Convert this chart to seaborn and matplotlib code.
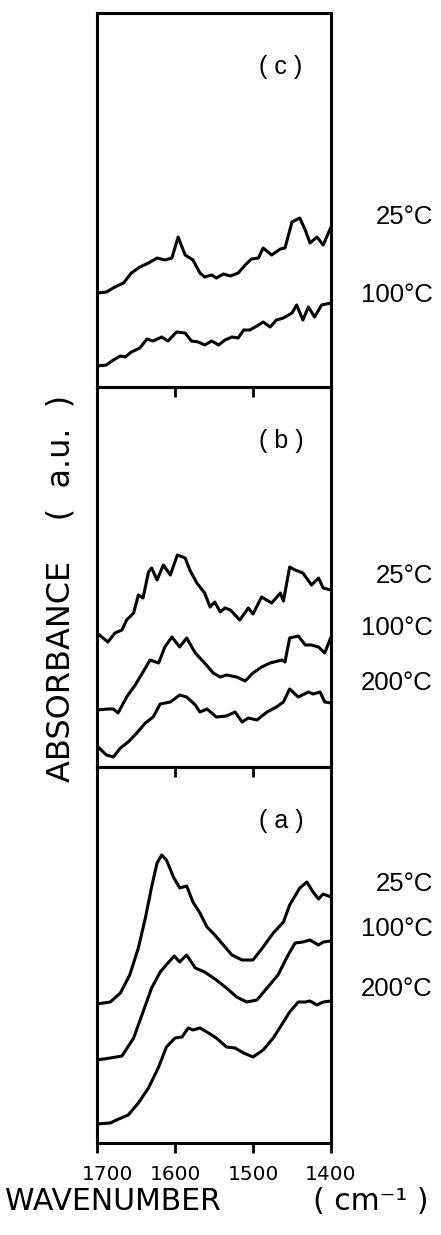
import numpy as np
import pandas as pd
import matplotlib
matplotlib.use("Agg")
import matplotlib.pyplot as plt
import matplotlib.transforms as mtransforms
import seaborn as sns

# ---------------- data (wavenumber cm-1, absorbance a.u.) ----------------
wn_c25 = [1700,1688,1677,1666,1656,1645,1634,1623,1613,1604,1596,1587,1577,1568,1562,1553,1547,1538,1529,1519,1510,1502,1493,1487,1476,1465,1459,1450,1440,1433,1427,1418,1410,1400]
ab_c25 = [0.94,0.95,1.00,1.04,1.14,1.20,1.24,1.29,1.27,1.29,1.50,1.32,1.27,1.14,1.10,1.12,1.09,1.13,1.11,1.14,1.22,1.28,1.29,1.39,1.32,1.38,1.39,1.65,1.69,1.57,1.44,1.50,1.42,1.60]

wn_c100 = [1700,1688,1679,1670,1664,1656,1645,1636,1628,1617,1609,1598,1587,1579,1570,1562,1553,1544,1536,1527,1519,1512,1504,1495,1487,1478,1470,1461,1450,1444,1436,1429,1421,1412,1400]
ab_c100 = [0.21,0.22,0.27,0.31,0.30,0.35,0.39,0.48,0.46,0.50,0.46,0.55,0.54,0.46,0.45,0.42,0.46,0.42,0.47,0.50,0.49,0.57,0.57,0.61,0.65,0.60,0.67,0.69,0.74,0.82,0.67,0.80,0.70,0.82,0.84]

wn_b25 = [1700,1686,1677,1668,1662,1653,1647,1641,1634,1630,1623,1615,1606,1597,1587,1581,1572,1562,1555,1549,1542,1536,1529,1517,1506,1500,1489,1476,1465,1461,1453,1446,1436,1425,1416,1410,1400]
ab_b25 = [1.34,1.25,1.34,1.37,1.47,1.54,1.72,1.69,1.95,1.99,1.87,2.02,1.92,2.12,2.09,1.97,1.84,1.74,1.60,1.65,1.55,1.59,1.57,1.47,1.59,1.53,1.70,1.64,1.74,1.66,2.00,1.97,1.94,1.82,1.89,1.79,1.77]

wn_b100 = [1700,1686,1679,1673,1662,1651,1641,1632,1621,1613,1604,1594,1585,1574,1562,1551,1542,1534,1521,1510,1500,1489,1478,1463,1459,1453,1442,1433,1425,1416,1408,1400]
ab_b100 = [0.57,0.58,0.58,0.54,0.70,0.82,0.95,1.07,1.04,1.20,1.30,1.20,1.29,1.14,1.04,0.94,0.90,0.92,0.90,0.86,0.94,1.00,1.04,1.07,1.05,1.29,1.31,1.22,1.22,1.20,1.14,1.30]

wn_b200 = [1700,1688,1679,1670,1660,1649,1638,1628,1619,1606,1594,1585,1574,1568,1559,1547,1534,1523,1514,1506,1495,1482,1470,1461,1453,1442,1429,1423,1414,1408,1400]
ab_b200 = [0.21,0.12,0.10,0.19,0.25,0.34,0.44,0.50,0.63,0.65,0.72,0.70,0.62,0.55,0.58,0.50,0.51,0.55,0.45,0.49,0.47,0.55,0.60,0.65,0.78,0.70,0.75,0.73,0.75,0.65,0.64]

wn_a25 = [1700,1683,1670,1658,1647,1638,1630,1623,1617,1611,1602,1594,1585,1577,1568,1559,1549,1538,1527,1514,1500,1487,1474,1461,1453,1440,1431,1423,1416,1410,1400]
ab_a25 = [1.39,1.41,1.50,1.68,1.95,2.25,2.56,2.80,2.88,2.83,2.66,2.55,2.57,2.41,2.30,2.16,2.08,1.98,1.88,1.83,1.83,1.96,2.10,2.21,2.38,2.55,2.61,2.51,2.44,2.49,2.46]

wn_a100 = [1700,1683,1668,1653,1641,1630,1619,1609,1601,1594,1585,1574,1562,1547,1534,1521,1508,1495,1482,1468,1455,1446,1436,1427,1416,1410,1400]
ab_a100 = [0.83,0.85,0.87,1.05,1.31,1.55,1.71,1.80,1.87,1.81,1.88,1.75,1.71,1.63,1.55,1.46,1.41,1.43,1.55,1.68,1.88,2.00,2.01,2.03,1.98,2.01,2.02]

wn_a200 = [1700,1683,1675,1660,1647,1634,1621,1611,1600,1591,1583,1577,1568,1557,1547,1534,1523,1512,1500,1487,1474,1461,1453,1442,1433,1427,1418,1410,1400]
ab_a200 = [0.19,0.20,0.23,0.28,0.40,0.55,0.76,0.96,1.05,1.06,1.15,1.13,1.15,1.10,1.05,0.96,0.95,0.90,0.86,0.93,1.05,1.21,1.31,1.41,1.41,1.42,1.38,1.41,1.42]

x_ticks = [1700, 1600, 1500, 1400]
x_tick_labels = ["1700", "1600", "1500", "1400"]
panel_names = ["( c )", "( b )", "( a )"]
temps_c = ["25°C", "100°C"]
temps_b = ["25°C", "100°C", "200°C"]
temps_a = ["25°C", "100°C", "200°C"]

# ---------------- figure ----------------
sns.set_style("white")
plt.rcParams["font.family"] = ["DejaVu Sans"]
plt.rcParams["text.color"] = "black"
plt.rcParams["xtick.color"] = "black"
plt.rcParams["axes.edgecolor"] = "black"

W, H = 441, 1235
fig = plt.figure(figsize=(W / 100, H / 100), dpi=100)

left, right = 97, 331
panels_px = [(13, 387), (387, 767), (767, 1143)]  # top, bottom in px
ylims = [(0, 3.74), (0, 3.80), (0, 3.76)]

series = [
    [(wn_c25, ab_c25), (wn_c100, ab_c100)],
    [(wn_b25, ab_b25), (wn_b100, ab_b100), (wn_b200, ab_b200)],
    [(wn_a25, ab_a25), (wn_a100, ab_a100), (wn_a200, ab_a200)],
]
temp_labels = [temps_c, temps_b, temps_a]
temp_y_px = [[217, 295], [576, 628, 683], [884, 929, 989]]

axes = []
for i, ((top, bot), ylim) in enumerate(zip(panels_px, ylims)):
    ax = fig.add_axes([left / W, 1 - bot / H, (right - left) / W, (bot - top) / H])
    axes.append(ax)
    for wn, ab in series[i]:
        df = pd.DataFrame({"wn": wn, "ab": ab})
        sns.lineplot(data=df, x="wn", y="ab", ax=ax, color="black", lw=2.2,
                     estimator=None, sort=False)
    ax.set_xlim(1700, 1400)
    ax.set_ylim(*ylim)
    ax.set_yticks([])
    ax.set_xticks(x_ticks)
    ax.set_xlabel("")
    ax.set_ylabel("")
    for sp in ax.spines.values():
        sp.set_visible(True)
        sp.set_color("black")
        sp.set_linewidth(2.2)
    ax.tick_params(axis="x", direction="out", length=7, width=2.0, bottom=True,
                   top=False, colors="black", pad=9)
    if i < 2:
        ax.set_xticklabels([])
    else:
        ax.set_xticklabels(x_tick_labels, fontsize=14.5)
        lab0 = ax.get_xticklabels()[0]
        lab0.set_transform(lab0.get_transform() +
                           mtransforms.ScaledTranslation(10 / 100, 0, fig.dpi_scale_trans))
    ax.set_zorder(3 - i)
    ax.patch.set_alpha(0)
    ax.text(0.786, 1 - 54 / (bot - top), panel_names[i], transform=ax.transAxes,
            ha="center", va="center", fontsize=18, family="Liberation Sans",
            color="black")
    for lab, ypx in zip(temp_labels[i], temp_y_px[i]):
        fig.text(433 / W, 1 - ypx / H, lab, ha="right", va="center",
                 fontsize=18.5, family="Liberation Sans", color="black")

fig.text(61 / W, 1 - 588 / H, "ABSORBANCE    (  a.u.  )", rotation=90,
         ha="center", va="center", fontsize=23, color="black")
fig.text(5 / W, 1 - 1210 / H, "WAVENUMBER", ha="left", va="baseline",
         fontsize=21.5, color="black")
fig.text(313 / W, 1 - 1210 / H, "( cm⁻¹ )", ha="left", va="baseline",
         fontsize=21.5, color="black")

fig.savefig("out.png", dpi=100)
